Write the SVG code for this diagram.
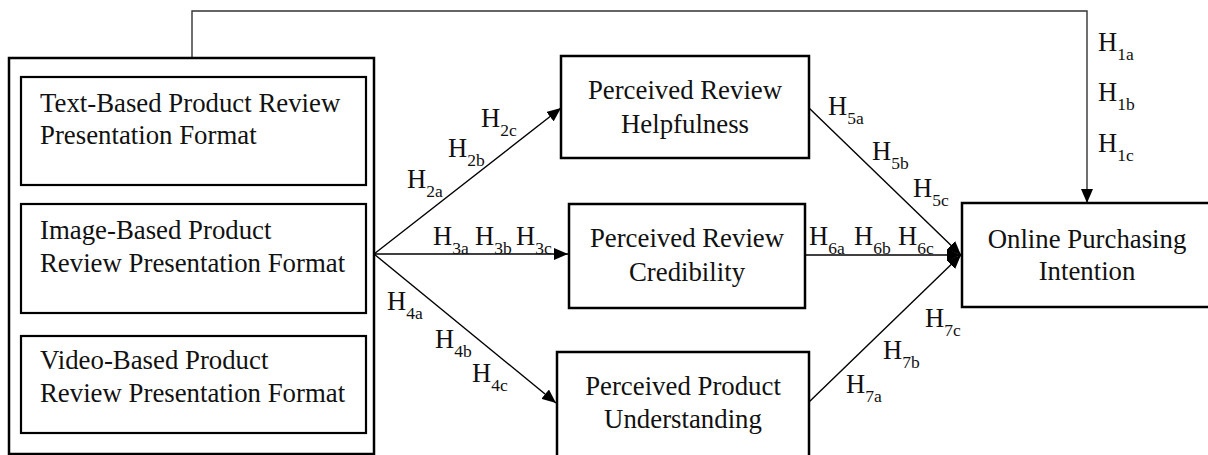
<svg xmlns="http://www.w3.org/2000/svg" width="1208" height="455" viewBox="0 0 1208 455">
<style>
.box{fill:#fff;stroke:#000;stroke-width:2.5}
.ibox{fill:#fff;stroke:#000;stroke-width:2.2}
.t{font-family:"Liberation Serif","Times New Roman",serif;font-size:26.8px;fill:#111}
.c{text-anchor:middle}
.h{font-family:"Liberation Serif","Times New Roman",serif;font-size:26.5px;fill:#111}
.s{font-size:17.5px}
.ln{fill:none;stroke:#000;stroke-width:1.4}
.top{fill:none;stroke:#333;stroke-width:1.4}
</style>
<defs>
<marker id="ah" viewBox="0 0 14 12" refX="14" refY="6" markerWidth="14" markerHeight="12" markerUnits="userSpaceOnUse" orient="auto">
<path d="M0,0 L14,6 L0,12 z" fill="#000"/>
</marker>
</defs>
<rect width="1208" height="455" fill="#fff"/>
<g id="connectors">
<path class="top" d="M192,57 V11 H1087 V203" marker-end="url(#ah)"/>
<line class="ln" x1="374" y1="254" x2="561" y2="108" marker-end="url(#ah)"/>
<line class="ln" x1="374" y1="254" x2="568" y2="254" marker-end="url(#ah)"/>
<line class="ln" x1="374" y1="254" x2="556" y2="403" marker-end="url(#ah)"/>
<line class="ln" x1="809" y1="108" x2="961" y2="255" marker-end="url(#ah)"/>
<line class="ln" x1="805" y1="255" x2="961" y2="255" marker-end="url(#ah)"/>
<line class="ln" x1="809" y1="402" x2="961" y2="255" marker-end="url(#ah)"/>
</g>
<g id="formats">
<rect class="box" x="9" y="58" width="365" height="396"/>
<g id="text-based">
<rect class="ibox" x="21" y="77" width="345" height="108"/>
<text class="t" x="40" y="112">Text-Based Product Review</text>
<text class="t" x="40" y="144">Presentation Format</text>
</g>
<g id="image-based">
<rect class="ibox" x="21" y="204" width="345" height="109"/>
<text class="t" x="40" y="239">Image-Based Product</text>
<text class="t" x="40" y="272">Review Presentation Format</text>
</g>
<g id="video-based">
<rect class="ibox" x="21" y="336" width="345" height="97"/>
<text class="t" x="40" y="369">Video-Based Product</text>
<text class="t" x="40" y="402">Review Presentation Format</text>
</g>
</g>
<g id="helpfulness">
<rect class="box" x="561" y="56" width="248" height="102"/>
<text class="t c" x="685" y="99">Perceived Review</text>
<text class="t c" x="685" y="133">Helpfulness</text>
</g>
<g id="credibility">
<rect class="box" x="569" y="204" width="236" height="104"/>
<text class="t c" x="687" y="247">Perceived Review</text>
<text class="t c" x="687" y="281">Credibility</text>
</g>
<g id="understanding">
<rect class="box" x="557" y="352" width="252" height="110"/>
<text class="t c" x="683" y="395">Perceived Product</text>
<text class="t c" x="683" y="428">Understanding</text>
</g>
<g id="intention">
<rect class="box" x="962" y="203" width="260" height="104"/>
<text class="t c" x="1087" y="248">Online Purchasing</text>
<text class="t c" x="1087" y="280">Intention</text>
</g>
<g id="labels">
<text class="h" x="1098" y="51">H<tspan class="s" dy="9">1a</tspan></text>
<text class="h" x="1098" y="101">H<tspan class="s" dy="9">1b</tspan></text>
<text class="h" x="1098" y="152">H<tspan class="s" dy="9">1c</tspan></text>
<text class="h" x="407" y="188">H<tspan class="s" dy="9">2a</tspan></text>
<text class="h" x="448" y="157">H<tspan class="s" dy="9">2b</tspan></text>
<text class="h" x="481" y="127">H<tspan class="s" dy="9">2c</tspan></text>
<text class="h" x="433" y="245">H<tspan class="s" dy="9">3a</tspan></text>
<text class="h" x="475" y="245">H<tspan class="s" dy="9">3b</tspan></text>
<text class="h" x="516" y="245">H<tspan class="s" dy="9">3c</tspan></text>
<text class="h" x="387" y="310">H<tspan class="s" dy="9">4a</tspan></text>
<text class="h" x="435" y="348">H<tspan class="s" dy="9">4b</tspan></text>
<text class="h" x="472" y="382">H<tspan class="s" dy="9">4c</tspan></text>
<text class="h" x="828" y="115">H<tspan class="s" dy="9">5a</tspan></text>
<text class="h" x="872" y="160">H<tspan class="s" dy="9">5b</tspan></text>
<text class="h" x="913" y="197">H<tspan class="s" dy="9">5c</tspan></text>
<text class="h" x="809" y="245">H<tspan class="s" dy="9">6a</tspan></text>
<text class="h" x="854" y="245">H<tspan class="s" dy="9">6b</tspan></text>
<text class="h" x="898" y="245">H<tspan class="s" dy="9">6c</tspan></text>
<text class="h" x="846" y="393">H<tspan class="s" dy="9">7a</tspan></text>
<text class="h" x="883" y="359">H<tspan class="s" dy="9">7b</tspan></text>
<text class="h" x="925" y="327">H<tspan class="s" dy="9">7c</tspan></text>
</g>
</svg>
